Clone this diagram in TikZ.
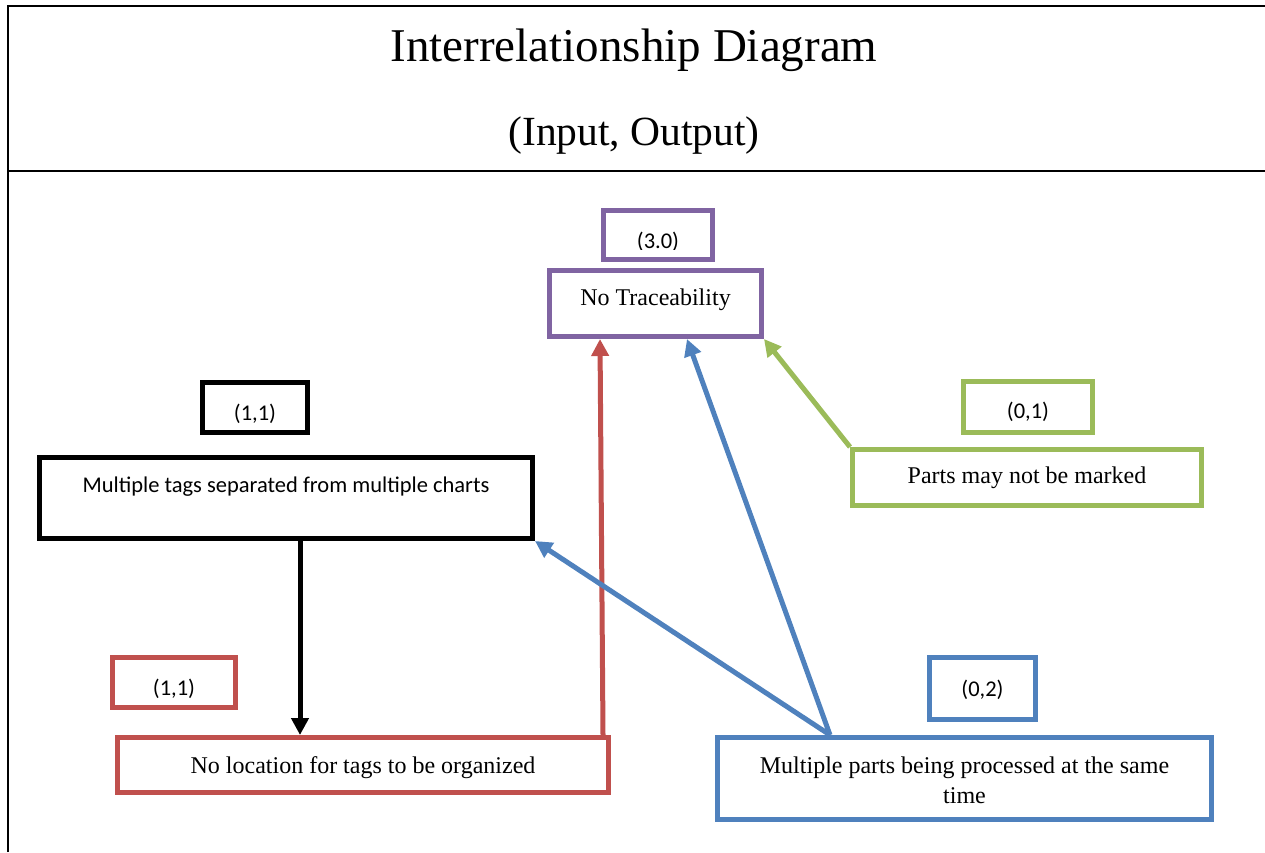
\documentclass[tikz,border=0pt]{standalone}
\usepackage{fontspec}
\setmainfont{Liberation Serif}
\newfontfamily\labelfont{Carlito}
\usetikzlibrary{arrows.meta,calc}

\definecolor{cpurple}{HTML}{8064A2}
\definecolor{cred}{HTML}{C0504D}
\definecolor{cblue}{HTML}{4F81BD}
\definecolor{cgreen}{HTML}{9BBB59}

\begin{document}
\begin{tikzpicture}[x=1pt,y=-1pt,
  box/.style={draw=#1, line width=5pt, fill=white, inner sep=0pt},
  serif/.style={font=\fontsize{24}{30}\selectfont, anchor=base, inner sep=0pt, align=center},
  sans/.style={font=\labelfont\fontsize{22.5}{27}\selectfont, anchor=base, inner sep=0pt},
  link/.style={draw=#1, line width=5pt, -{Triangle[length=17pt,width=17pt]}},
]
\useasboundingbox (0,0) rectangle (1265,852);

% table frame and heading
\draw[line width=2pt] (8,852) -- (8,6) -- (1265,6);
\draw[line width=2pt] (8,171) -- (1265,171);
\node[font=\fontsize{47}{52}\selectfont, anchor=base, inner sep=0pt] (title) at (634,61) {Interrelationship Diagram};
\node[font=\fontsize{41.5}{46}\selectfont, anchor=base, inner sep=0pt] (subtitle) at (634,145) {(Input, Output)};

% boxes
\node[box=cpurple, minimum width=109pt, minimum height=49pt] (s30) at (658,235) {};
\node[box=cpurple, minimum width=212pt, minimum height=66pt] (nt) at (655.5,303.5) {};
\node[box=black, minimum width=105pt, minimum height=50pt] (s11b) at (255,407.5) {};
\node[box=black, minimum width=493pt, minimum height=81pt] (mt) at (286,498) {};
\node[box=cred, minimum width=123pt, minimum height=50pt] (s11r) at (174,682.5) {};
\node[box=cred, minimum width=491pt, minimum height=55pt] (nl) at (363,765) {};
\node[box=cblue, minimum width=106pt, minimum height=62pt] (s02) at (982.5,688.5) {};
\node[box=cblue, minimum width=494pt, minimum height=82pt] (mp) at (964.5,778.5) {};
\node[box=cgreen, minimum width=129pt, minimum height=51pt] (s01) at (1028,407) {};
\node[box=cgreen, minimum width=349pt, minimum height=56pt] (pm) at (1027,477.5) {};

% texts
\begin{scope}
  \clip (600,210) rectangle (716,249);
  \node[sans] (t30) at (658,248) {(3.0)};
\end{scope}
\node[serif] (tnt) at (655.5,305) {No Traceability};
\node[sans] (t11b) at (255,420) {(1,1)};
\node[sans] (tmt) at (286,492) {Multiple tags separated from multiple charts};
\node[sans] (t11r) at (174,695) {(1,1)};
\node[serif] (tnl) at (363,773) {No location for tags to be organized};
\node[sans] (t02) at (982.5,696) {(0,2)};
\node[serif] (tmp) at (964.5,803) {Multiple parts being processed at the same\\time};
\node[sans] (t01) at (1028,418) {(0,1)};
\node[serif] (tpm) at (1027,483) {Parts may not be marked};

% connectors
\coordinate (bx) at (300,0);
\draw[link=black] (mt.south -| bx) -- (nl.north -| bx);
\draw[link=cred] ($(nl.north east)+(-8,0)$) -- ($(nt.south west)+(53,0)$);
\draw[link=cblue] ($(mp.north west)+(115,0)$) -- ($(nt.south west)+(140,0)$);
\draw[link=cblue] ($(mp.north west)+(115,0)$) -- (mt.south east);
\draw[link=cgreen] (pm.north west) -- (nt.south east);
\end{tikzpicture}
\end{document}
